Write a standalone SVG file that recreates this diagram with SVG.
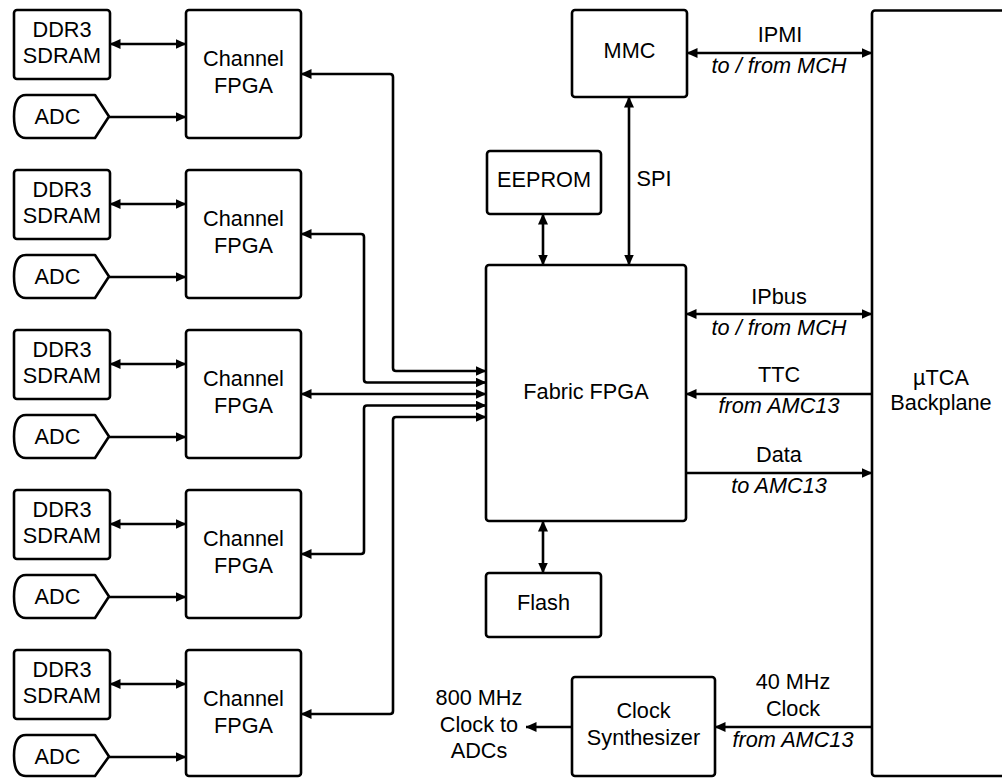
<svg xmlns="http://www.w3.org/2000/svg" width="1002" height="778" viewBox="0 0 1002 778">
<defs>
<marker id="ah" viewBox="0 0 11 10" refX="10.5" refY="5" markerWidth="11" markerHeight="10" markerUnits="userSpaceOnUse" orient="auto-start-reverse">
<path d="M0,0 L11,5 L0,10 Z" fill="#000"/>
</marker>
<style>
.box{fill:#fff;stroke:#000;stroke-width:2.6;stroke-linejoin:round}
.t{font-family:"Liberation Sans",Arial,sans-serif;font-size:21.7px;fill:#000;text-anchor:middle}
.i{font-style:italic}
.c{fill:none;stroke:#000;stroke-width:2.6;stroke-linejoin:round}
.b{marker-start:url(#ah);marker-end:url(#ah)}
.e{marker-end:url(#ah)}
</style>
</defs>
<rect width="1002" height="778" fill="#fff"/>

<g id="connectors">
<!-- row connections -->
<path class="c b" d="M110,44 H186"/>
<path class="c e" d="M109,117 H186"/>
<path class="c b" d="M110,204 H186"/>
<path class="c e" d="M109,277 H186"/>
<path class="c b" d="M110,364 H186"/>
<path class="c e" d="M109,437 H186"/>
<path class="c b" d="M110,524 H186"/>
<path class="c e" d="M109,597 H186"/>
<path class="c b" d="M110,684 H186"/>
<path class="c e" d="M109,757 H186"/>
<!-- channel to fabric -->
<path class="c b" d="M301,74 H390 Q393,74 393,77 V368 Q393,371 396,371 H486"/>
<path class="c b" d="M301,234 H361 Q364,234 364,237 V379.5 Q364,382.5 367,382.5 H486"/>
<path class="c b" d="M301,394 H486"/>
<path class="c b" d="M301,554 H361 Q364,554 364,551 V408.5 Q364,405.5 367,405.5 H486"/>
<path class="c b" d="M301,714 H390 Q393,714 393,711 V420 Q393,417 396,417 H486"/>
<!-- fabric peripherals -->
<path class="c b" d="M543,214 V265"/>
<path class="c b" d="M629,97 V265"/>
<path class="c b" d="M543,521 V573"/>
<!-- backplane links -->
<path class="c b" d="M687,53 H872"/>
<path class="c b" d="M686,314 H872"/>
<path class="c e" d="M872,394 H686"/>
<path class="c e" d="M686,473 H872"/>
<path class="c e" d="M872,727 H715"/>
<path class="c e" d="M572,727 H526"/>
</g>

<g id="row1">
<g id="ddr1"><rect class="box" x="14" y="10" width="96" height="69" rx="3"/><text class="t" x="62" y="36.7">DDR3</text><text class="t" x="62" y="62.7">SDRAM</text></g>
<g id="adc1"><path class="box" d="M26,95 H95 L109,116.5 L95,138 H26 Q14,138 14,116.5 Q14,95 26,95 Z"/><text class="t" x="57.5" y="124">ADC</text></g>
<g id="ch1"><rect class="box" x="186" y="10" width="115" height="128" rx="3"/><text class="t" x="243.5" y="66">Channel</text><text class="t" x="243.5" y="92.7">FPGA</text></g>
</g>
<g id="row2" transform="translate(0,160)">
<g id="ddr2"><rect class="box" x="14" y="10" width="96" height="69" rx="3"/><text class="t" x="62" y="36.7">DDR3</text><text class="t" x="62" y="62.7">SDRAM</text></g>
<g id="adc2"><path class="box" d="M26,95 H95 L109,116.5 L95,138 H26 Q14,138 14,116.5 Q14,95 26,95 Z"/><text class="t" x="57.5" y="124">ADC</text></g>
<g id="ch2"><rect class="box" x="186" y="10" width="115" height="128" rx="3"/><text class="t" x="243.5" y="66">Channel</text><text class="t" x="243.5" y="92.7">FPGA</text></g>
</g>
<g id="row3" transform="translate(0,320)">
<g id="ddr3"><rect class="box" x="14" y="10" width="96" height="69" rx="3"/><text class="t" x="62" y="36.7">DDR3</text><text class="t" x="62" y="62.7">SDRAM</text></g>
<g id="adc3"><path class="box" d="M26,95 H95 L109,116.5 L95,138 H26 Q14,138 14,116.5 Q14,95 26,95 Z"/><text class="t" x="57.5" y="124">ADC</text></g>
<g id="ch3"><rect class="box" x="186" y="10" width="115" height="128" rx="3"/><text class="t" x="243.5" y="66">Channel</text><text class="t" x="243.5" y="92.7">FPGA</text></g>
</g>
<g id="row4" transform="translate(0,480)">
<g id="ddr4"><rect class="box" x="14" y="10" width="96" height="69" rx="3"/><text class="t" x="62" y="36.7">DDR3</text><text class="t" x="62" y="62.7">SDRAM</text></g>
<g id="adc4"><path class="box" d="M26,95 H95 L109,116.5 L95,138 H26 Q14,138 14,116.5 Q14,95 26,95 Z"/><text class="t" x="57.5" y="124">ADC</text></g>
<g id="ch4"><rect class="box" x="186" y="10" width="115" height="128" rx="3"/><text class="t" x="243.5" y="66">Channel</text><text class="t" x="243.5" y="92.7">FPGA</text></g>
</g>
<g id="row5" transform="translate(0,640)">
<g id="ddr5"><rect class="box" x="14" y="10" width="96" height="69" rx="3"/><text class="t" x="62" y="36.7">DDR3</text><text class="t" x="62" y="62.7">SDRAM</text></g>
<g id="adc5"><path class="box" d="M26,95 H95 L109,116.5 L95,136 H26 Q14,136 14,115.5 Q14,95 26,95 Z"/><text class="t" x="57.5" y="124">ADC</text></g>
<g id="ch5"><rect class="box" x="186" y="10" width="115" height="126" rx="3"/><text class="t" x="243.5" y="66">Channel</text><text class="t" x="243.5" y="92.7">FPGA</text></g>
</g>

<g id="fabric"><rect class="box" x="486" y="265" width="200" height="256" rx="3"/><text class="t" x="586" y="399">Fabric FPGA</text></g>
<g id="eeprom"><rect class="box" x="487" y="151" width="114" height="63" rx="3"/><text class="t" x="544" y="187">EEPROM</text></g>
<g id="mmc"><rect class="box" x="572" y="10" width="115" height="87" rx="3"/><text class="t" x="629.5" y="58">MMC</text></g>
<g id="flash"><rect class="box" x="486" y="573" width="115" height="64" rx="3"/><text class="t" x="543.5" y="610">Flash</text></g>
<g id="clocksynth"><rect class="box" x="572" y="677" width="143" height="99" rx="3"/><text class="t" x="643.5" y="718">Clock</text><text class="t" x="643.5" y="745">Synthesizer</text></g>
<g id="backplane"><rect class="box" x="872" y="10.5" width="140" height="765.5" rx="3"/><text class="t" x="941" y="385">µTCA</text><text class="t" x="941" y="410">Backplane</text></g>

<g id="labels">
<text class="t" x="780" y="42">IPMI</text>
<text class="t i" x="779" y="73">to / from MCH</text>
<text class="t" x="654" y="186">SPI</text>
<text class="t" x="779" y="304">IPbus</text>
<text class="t i" x="779" y="335">to / from MCH</text>
<text class="t" x="779" y="382">TTC</text>
<text class="t i" x="779" y="413">from AMC13</text>
<text class="t" x="779" y="462">Data</text>
<text class="t i" x="779" y="493">to AMC13</text>
<text class="t" x="793" y="689">40 MHz</text>
<text class="t" x="793" y="716">Clock</text>
<text class="t i" x="793" y="747">from AMC13</text>
<text class="t" x="479" y="705">800 MHz</text>
<text class="t" x="479" y="731.5">Clock to</text>
<text class="t" x="479" y="757.5">ADCs</text>
</g>
</svg>
